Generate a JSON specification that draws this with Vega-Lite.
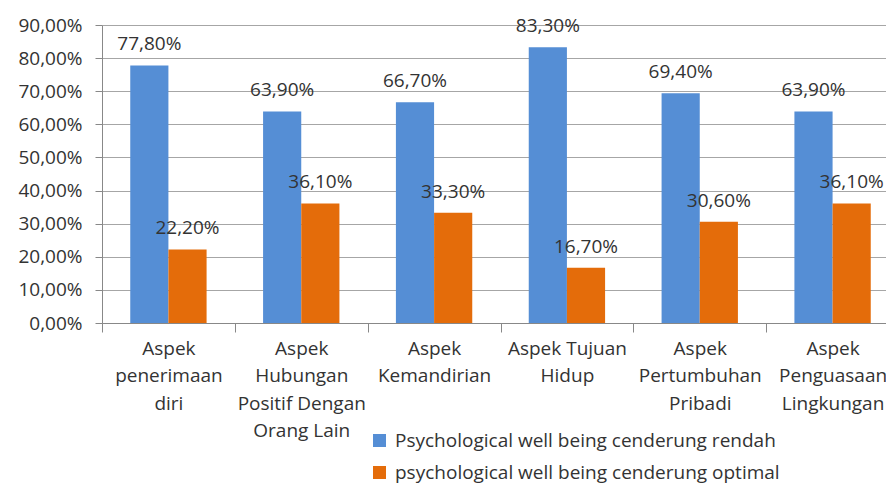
{
  "$schema": "https://vega.github.io/schema/vega-lite/v6.json",
  "width": 784,
  "height": 298,
  "autosize": "none",
  "padding": {"left": 102, "top": 25, "right": 0, "bottom": 163},
  "background": "white",
  "config": {
    "locale": {"number": {"decimal": ",", "thousands": ".", "grouping": [3], "currency": ["", " €"]}},
    "font": "Open Sans",
    "view": {"stroke": null}
  },
  "data": {
    "values": [
      {"aspek": "Aspek|penerimaan|diri", "series": "Psychological well being cenderung rendah", "value": 0.778},
      {"aspek": "Aspek|penerimaan|diri", "series": "psychological well being cenderung optimal", "value": 0.222},
      {"aspek": "Aspek|Hubungan|Positif Dengan|Orang Lain", "series": "Psychological well being cenderung rendah", "value": 0.639},
      {"aspek": "Aspek|Hubungan|Positif Dengan|Orang Lain", "series": "psychological well being cenderung optimal", "value": 0.361},
      {"aspek": "Aspek|Kemandirian", "series": "Psychological well being cenderung rendah", "value": 0.667},
      {"aspek": "Aspek|Kemandirian", "series": "psychological well being cenderung optimal", "value": 0.333},
      {"aspek": "Aspek Tujuan|Hidup", "series": "Psychological well being cenderung rendah", "value": 0.833},
      {"aspek": "Aspek Tujuan|Hidup", "series": "psychological well being cenderung optimal", "value": 0.167},
      {"aspek": "Aspek|Pertumbuhan|Pribadi", "series": "Psychological well being cenderung rendah", "value": 0.694},
      {"aspek": "Aspek|Pertumbuhan|Pribadi", "series": "psychological well being cenderung optimal", "value": 0.306},
      {"aspek": "Aspek|Penguasaan|Lingkungan", "series": "Psychological well being cenderung rendah", "value": 0.639},
      {"aspek": "Aspek|Penguasaan|Lingkungan", "series": "psychological well being cenderung optimal", "value": 0.361}
    ]
  },
  "encoding": {
    "x": {
      "field": "aspek",
      "type": "nominal",
      "sort": null,
      "scale": {"range": [0, 797], "paddingInner": 0, "paddingOuter": 0},
      "axis": {
        "title": null,
        "labelAngle": 0,
        "labelExpr": "split(datum.label, '|')",
        "labelFontSize": 19,
        "labelLineHeight": 27.5,
        "labelColor": "#333333",
        "labelPadding": 7,
        "labelLimit": 0,
        "tickBand": "extent",
        "tickSize": 9,
        "tickColor": "#888888",
        "domainColor": "#888888",
        "grid": false
      }
    },
    "xOffset": {
      "field": "series",
      "type": "nominal",
      "sort": null,
      "scale": {"paddingInner": 0, "paddingOuter": 0.74}
    },
    "y": {
      "field": "value",
      "type": "quantitative",
      "scale": {"domain": [0, 0.9], "nice": false},
      "axis": {
        "title": null,
        "values": [0, 0.1, 0.2, 0.3, 0.4, 0.5, 0.6, 0.7, 0.8, 0.9],
        "format": ".2%",
        "labelFontSize": 19,
        "labelColor": "#333333",
        "labelPadding": 13,
        "tickSize": 7,
        "tickColor": "#888888",
        "domainColor": "#888888",
        "gridColor": "#a6a6a6"
      }
    }
  },
  "layer": [
    {
      "mark": {"type": "bar"},
      "encoding": {
        "color": {
          "field": "series",
          "type": "nominal",
          "sort": null,
          "scale": {
            "domain": ["Psychological well being cenderung rendah", "psychological well being cenderung optimal"],
            "range": ["#558ed5", "#e46c0a"]
          },
          "legend": {
            "title": null,
            "orient": "none",
            "legendX": 268,
            "legendY": 406,
            "padding": 0,
            "direction": "vertical",
            "symbolType": "square",
            "symbolSize": 169,
            "symbolStrokeWidth": 0,
            "labelFontSize": 19,
            "labelColor": "#333333",
            "labelOffset": 6,
            "labelLimit": 0,
            "rowPadding": 12
          }
        }
      }
    },
    {
      "mark": {"type": "text", "baseline": "alphabetic", "dy": -15, "fontSize": 19, "color": "#333333"},
      "encoding": {
        "text": {"field": "value", "type": "quantitative", "format": ".2%"}
      }
    }
  ]
}
